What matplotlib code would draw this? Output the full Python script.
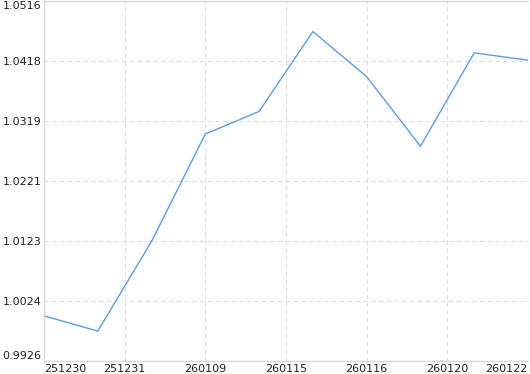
import matplotlib
matplotlib.use("Agg")
import matplotlib.pyplot as plt
import numpy as np

values = [1.0000, 0.9975, 1.0122, 1.0298, 1.0335, 1.0466, 1.0392, 1.0278, 1.0431, 1.0419]
tick_labels = ["251230", "251231", "260109", "260115", "260116", "260120", "260122"]
y_min, y_max = 0.9926, 1.0516

fig = plt.figure(figsize=(5.30, 3.74), dpi=100)
ax = fig.add_axes([44/530, 13/374, 484/530, 360/374])

x = np.arange(len(values))
ax.plot(x, values, color="#5b9cec", linewidth=1.0)

ax.set_xlim(0, len(values) - 1)
ax.set_ylim(y_min, y_max)

xt = np.linspace(0, len(values) - 1, len(tick_labels))
yt = np.linspace(y_min, y_max, 7)
ax.set_xticks(xt)
ax.set_yticks(yt)
ax.set_xticklabels(tick_labels)
ax.set_yticklabels([f"{v:.4f}" for v in yt])

ax.tick_params(length=0, labelsize=8, labelcolor="#222222", pad=2)
xl = ax.get_xticklabels()
xl[0].set_ha("left")
xl[-1].set_ha("right")
yl = ax.get_yticklabels()
yl[0].set_va("bottom")
yl[-1].set_va("top")

ax.grid(True, color="#dddddd", linestyle=(0, (4, 3)), linewidth=0.8)
for s in ["left", "bottom", "top"]:
    ax.spines[s].set_color("#d8d8d8")
    ax.spines[s].set_linewidth(1.0)
ax.spines["right"].set_visible(False)
ax.set_axisbelow(True)

fig.savefig("out.png", dpi=100)
